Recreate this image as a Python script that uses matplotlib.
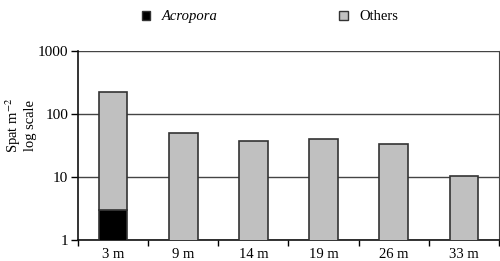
import numpy as np
import matplotlib.pyplot as plt
from matplotlib.patches import Patch

plt.rcParams['font.family'] = ['Liberation Serif', 'DejaVu Serif']
plt.rcParams['mathtext.fontset'] = 'stix'

depths = ['3 m', '9 m', '14 m', '19 m', '26 m', '33 m']
acropora = [3.0, 0, 0, 0, 0, 0]
others = [221, 50, 37, 40, 33, 10.5]

fig = plt.figure(figsize=(5, 2.61), dpi=100)
ax = fig.add_axes((78 / 500, 21 / 261, 421 / 500, 189 / 261))

x = np.arange(len(depths))
edge = '#333333'
ax.bar(x, acropora, width=0.41, bottom=1e-3, color='black', edgecolor=edge, linewidth=1.2, zorder=3)
ax.bar(x, others, width=0.41, bottom=[a if a > 0 else 1e-3 for a in acropora],
       color='#c0c0c0', edgecolor=edge, linewidth=1.2, zorder=3)

ax.set_yscale('log')
ax.set_ylim(1, 1000)
ax.set_xlim(-0.5, len(depths) - 0.5)
ax.set_yticks([1, 10, 100, 1000])
ax.set_yticklabels(['1', '10', '100', '1000'])
ax.minorticks_off()
ax.yaxis.grid(True, color='#444444', linewidth=1.0, zorder=0)
ax.tick_params(axis='y', direction='out', length=5, width=1, labelsize=11, pad=2)

ax.set_xticks(x)
ax.set_xticklabels(depths)
ax.tick_params(axis='x', length=0, labelsize=10.5, pad=6)
ax.set_xticks(np.arange(len(depths) + 1) - 0.5, minor=True)
ax.tick_params(axis='x', which='minor', direction='out', length=4, width=1)

for s in ['left', 'bottom']:
    ax.spines[s].set_color('#111111')
    ax.spines[s].set_linewidth(1.2)
ax.spines['top'].set_visible(False)
ax.spines['right'].set_color('#444444')

fig.text(0.04, 0.52, 'Spat m$^{-2}$\nlog scale', rotation=90, ha='center', va='center',
         fontsize=10.5, linespacing=1.1)

handles = [Patch(facecolor='black', edgecolor=edge), Patch(facecolor='#c0c0c0', edgecolor=edge)]
leg = fig.legend(handles, ['Acropora', 'Others'], loc='center', bbox_to_anchor=(0.54, 0.935),
                 ncol=2, frameon=False, fontsize=10.5, handlelength=0.6, handleheight=0.6,
                 columnspacing=8.3, handletextpad=0.8)
leg.get_texts()[0].set_style('italic')

fig.savefig('out.png', dpi=100)
